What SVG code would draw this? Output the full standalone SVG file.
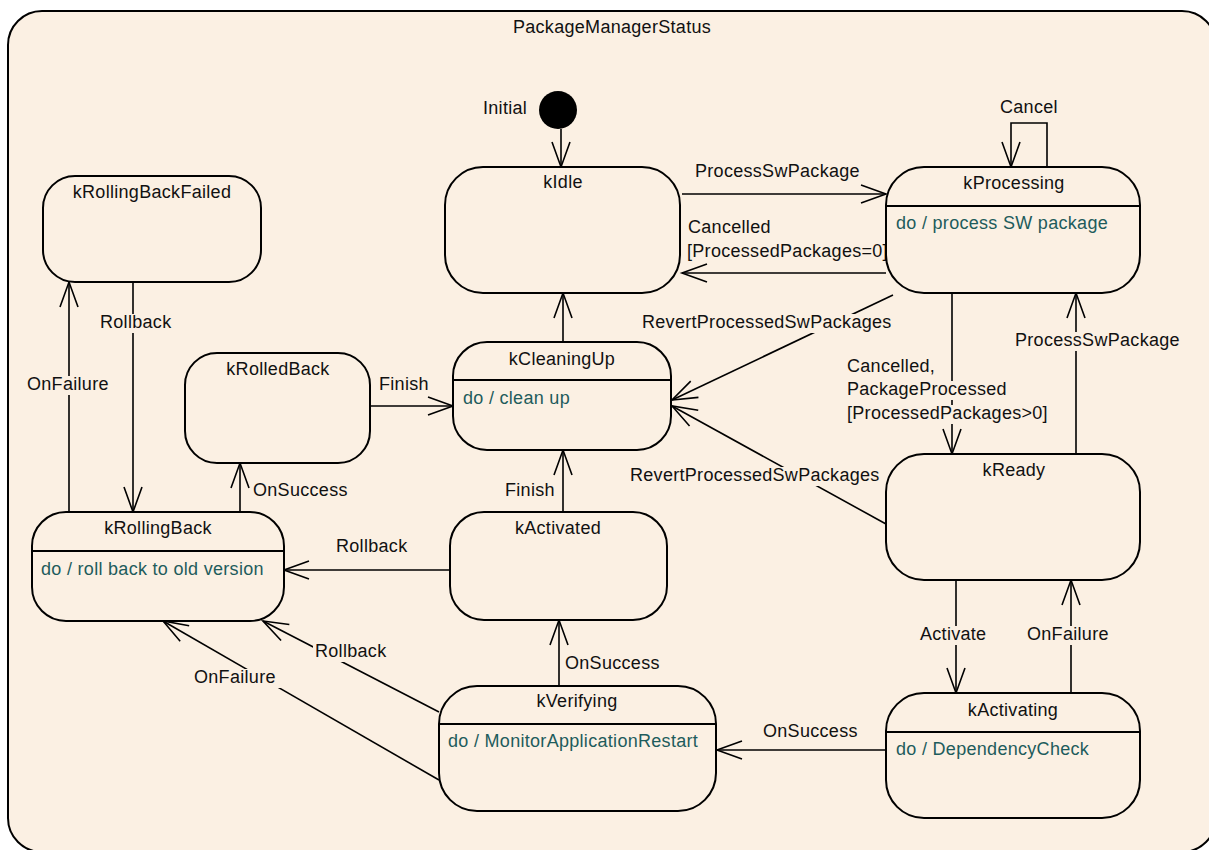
<svg xmlns="http://www.w3.org/2000/svg" width="1209" height="850" viewBox="0 0 1209 850">
  <style>
    text { font-family: "Liberation Sans", Arial, sans-serif; font-size: 18px; letter-spacing: 0.3px; fill: #111; }
    .name { text-anchor: middle; }
    .act { fill: #1e5c5c; }
    .state { fill: #FBF0E3; stroke: #000; stroke-width: 2; }
    .div { stroke: #000; stroke-width: 2; }
    .edge { fill: none; stroke: #000; stroke-width: 1.6; marker-end: url(#open); }
    .lbg { fill: #FBF0E3; }
  </style>
  <defs>
    <marker id="open" viewBox="-28 -12 31 24" refX="0" refY="0" markerWidth="31" markerHeight="24" markerUnits="userSpaceOnUse" orient="auto" overflow="visible">
      <path d="M-25,-9 L0,0 L-25,9" fill="none" stroke="#000" stroke-width="1.6"/>
    </marker>
  </defs>

  <rect width="1209" height="850" fill="#fff"/>

  <!-- enclosing state machine -->
  <g id="PackageManagerStatus">
    <rect x="8" y="11" width="1208" height="841" rx="34" fill="#FBF0E3" stroke="#000" stroke-width="2"/>
    <text class="name" x="612" y="33">PackageManagerStatus</text>
  </g>

  <!-- transitions -->
  <g id="transitions">
    <line class="edge" x1="561" y1="129" x2="561" y2="167"/>
    <line class="edge" x1="682" y1="194" x2="886" y2="194"/>
    <line class="edge" x1="886" y1="273" x2="682" y2="273"/>
    <path class="edge" d="M1047,167 V123 H1011 V167"/>
    <line class="edge" x1="893" y1="295" x2="672" y2="400"/>
    <line class="edge" x1="952" y1="293" x2="952" y2="454"/>
    <line class="edge" x1="1076" y1="454" x2="1076" y2="293"/>
    <line class="edge" x1="886" y1="524" x2="672" y2="406"/>
    <line class="edge" x1="563" y1="342" x2="563" y2="293"/>
    <line class="edge" x1="370" y1="406" x2="453" y2="406"/>
    <line class="edge" x1="563" y1="512" x2="563" y2="450"/>
    <line class="edge" x1="240" y1="512" x2="240" y2="463"/>
    <line class="edge" x1="69" y1="512" x2="69" y2="282"/>
    <line class="edge" x1="133" y1="282" x2="133" y2="512"/>
    <line class="edge" x1="450" y1="570" x2="284" y2="570"/>
    <line class="edge" x1="559" y1="686" x2="559" y2="620"/>
    <line class="edge" x1="439" y1="712" x2="263" y2="621"/>
    <line class="edge" x1="439" y1="780" x2="163" y2="621"/>
    <line class="edge" x1="886" y1="750" x2="717" y2="750"/>
    <line class="edge" x1="956" y1="580" x2="956" y2="693"/>
    <line class="edge" x1="1071" y1="693" x2="1071" y2="580"/>
  </g>

  <!-- transition labels -->
  <g id="transition-labels">
    <text x="483" y="114">Initial</text>
    <text x="695" y="177">ProcessSwPackage</text>
    <text x="688" y="233">Cancelled</text>
    <text x="687" y="257">[ProcessedPackages=0]</text>
    <text x="1000" y="113">Cancel</text>

    <rect class="lbg" x="640" y="314" width="251" height="19"/>
    <text x="642" y="328">RevertProcessedSwPackages</text>

    <rect class="lbg" x="845" y="358" width="95" height="19"/>
    <text x="847" y="372">Cancelled,</text>
    <rect class="lbg" x="845" y="381" width="160" height="19"/>
    <text x="847" y="395">PackageProcessed</text>
    <rect class="lbg" x="845" y="405" width="201" height="19"/>
    <text x="847" y="419">[ProcessedPackages&gt;0]</text>

    <rect class="lbg" x="1013" y="332" width="164" height="19"/>
    <text x="1015" y="346">ProcessSwPackage</text>

    <rect class="lbg" x="628" y="467" width="251" height="19"/>
    <text x="630" y="481">RevertProcessedSwPackages</text>

    <text x="379" y="390">Finish</text>
    <text x="505" y="496">Finish</text>

    <rect class="lbg" x="98" y="314" width="78" height="19"/>
    <text x="100" y="328">Rollback</text>
    <rect class="lbg" x="25" y="376" width="88" height="19"/>
    <text x="27" y="390">OnFailure</text>

    <text x="253" y="496">OnSuccess</text>
    <text x="336" y="552">Rollback</text>
    <text x="565" y="669">OnSuccess</text>

    <rect class="lbg" x="313" y="643" width="78" height="19"/>
    <text x="315" y="657">Rollback</text>
    <rect class="lbg" x="192" y="669" width="89" height="19"/>
    <text x="194" y="683">OnFailure</text>

    <text x="763" y="737">OnSuccess</text>

    <rect class="lbg" x="918" y="626" width="71" height="19"/>
    <text x="920" y="640">Activate</text>
    <rect class="lbg" x="1025" y="626" width="88" height="19"/>
    <text x="1027" y="640">OnFailure</text>
  </g>

  <!-- states -->
  <g id="Initial">
    <circle cx="558" cy="110" r="19" fill="#000"/>
  </g>

  <g id="kRollingBackFailed">
    <rect class="state" x="43" y="176" width="218" height="106" rx="32"/>
    <text class="name" x="152" y="198">kRollingBackFailed</text>
  </g>

  <g id="kIdle">
    <rect class="state" x="445" y="167" width="235" height="126" rx="38"/>
    <text class="name" x="563" y="188">kIdle</text>
  </g>

  <g id="kProcessing">
    <rect class="state" x="886" y="167" width="254" height="126" rx="38"/>
    <line class="div" x1="886" y1="206" x2="1140" y2="206"/>
    <text class="name" x="1014" y="189">kProcessing</text>
    <text class="act" x="896" y="229">do / process SW package</text>
  </g>

  <g id="kCleaningUp">
    <rect class="state" x="453" y="342" width="218" height="108" rx="34"/>
    <line class="div" x1="453" y1="380" x2="671" y2="380"/>
    <text class="name" x="562" y="365">kCleaningUp</text>
    <text class="act" x="463" y="404">do / clean up</text>
  </g>

  <g id="kRolledBack">
    <rect class="state" x="185" y="353" width="185" height="110" rx="32"/>
    <text class="name" x="278" y="375">kRolledBack</text>
  </g>

  <g id="kRollingBack">
    <rect class="state" x="32" y="512" width="252" height="109" rx="34"/>
    <line class="div" x1="32" y1="551" x2="284" y2="551"/>
    <text class="name" x="158" y="534">kRollingBack</text>
    <text class="act" x="41" y="575">do / roll back to old version</text>
  </g>

  <g id="kActivated">
    <rect class="state" x="450" y="512" width="217" height="108" rx="34"/>
    <text class="name" x="558" y="534">kActivated</text>
  </g>

  <g id="kVerifying">
    <rect class="state" x="439" y="686" width="277" height="125" rx="38"/>
    <line class="div" x1="439" y1="724" x2="716" y2="724"/>
    <text class="name" x="577" y="707">kVerifying</text>
    <text class="act" x="448" y="747">do / MonitorApplicationRestart</text>
  </g>

  <g id="kReady">
    <rect class="state" x="886" y="454" width="254" height="126" rx="38"/>
    <text class="name" x="1014" y="476">kReady</text>
  </g>

  <g id="kActivating">
    <rect class="state" x="886" y="693" width="254" height="125" rx="38"/>
    <line class="div" x1="886" y1="732" x2="1140" y2="732"/>
    <text class="name" x="1013" y="716">kActivating</text>
    <text class="act" x="896" y="755">do / DependencyCheck</text>
  </g>
</svg>
